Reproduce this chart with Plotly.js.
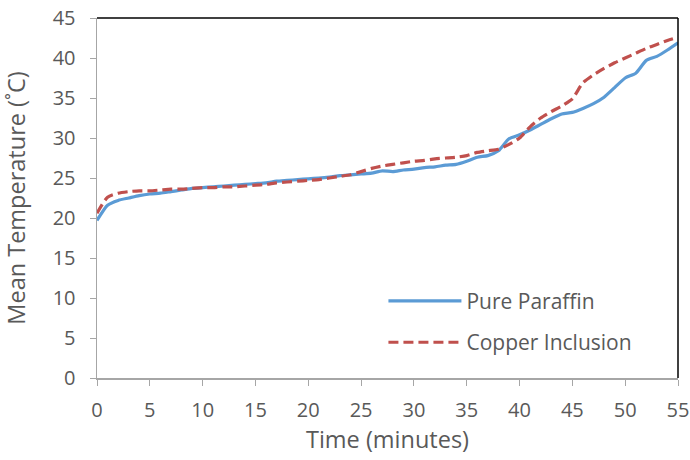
<!DOCTYPE html>
<html><head><meta charset="utf-8">
<script src="https://cdn.plot.ly/plotly-3.0.1.min.js"></script>
<style>html,body{margin:0;padding:0;background:#fff}#c{width:690px;height:460px}</style>
</head><body><div id="c"></div>
<script>
const timeMin = [0,1,2,3,4,5,6,7,8,9,10,11,12,13,14,15,16,17,18,19,20,21,22,23,24,25,26,27,28,29,30,31,32,33,34,35,36,37,38,39,40,41,42,43,44,45,46,47,48,49,50,51,52,53,54,55];
const pureParaffin = [19.7,21.6,22.2,22.5,22.8,23.0,23.1,23.3,23.5,23.7,23.8,23.9,24.0,24.1,24.2,24.3,24.4,24.6,24.7,24.8,24.9,25.0,25.1,25.3,25.4,25.5,25.6,25.9,25.8,26.0,26.1,26.3,26.4,26.6,26.7,27.1,27.6,27.8,28.4,29.9,30.4,31.0,31.7,32.4,33.0,33.2,33.7,34.3,35.1,36.3,37.5,38.1,39.7,40.2,41.0,41.9];
const copperInclusion = [20.6,22.6,23.1,23.3,23.4,23.4,23.5,23.6,23.6,23.7,23.8,23.8,23.9,23.9,24.0,24.1,24.2,24.4,24.5,24.6,24.7,24.8,25.0,25.2,25.4,25.8,26.2,26.5,26.7,26.9,27.1,27.2,27.4,27.5,27.6,27.8,28.2,28.4,28.6,29.2,30.0,31.4,32.5,33.3,34.0,34.9,36.9,37.9,38.7,39.4,40.0,40.6,41.2,41.7,42.2,42.6];
const xTicks = [0,5,10,15,20,25,30,35,40,45,50,55];
const yTicks = [0,5,10,15,20,25,30,35,40,45];

const FONT = 'Open Sans, Liberation Sans, sans-serif';
const traces = [
  {x: timeMin, y: pureParaffin, name: 'Pure Paraffin', mode: 'lines', legendgroup: 'a',
   line: {color: '#5B9BD5', width: 3.2, shape: 'spline', smoothing: 0.6}},
  {x: timeMin, y: copperInclusion, name: 'Copper Inclusion', mode: 'lines', legendgroup: 'b',
   line: {color: '#C0504D', width: 3.2, dash: '10px,5px', shape: 'spline', smoothing: 0.6}}
];
const layout = {
  width: 690, height: 460,
  margin: {l: 97, r: 12, t: 18, b: 82},
  paper_bgcolor: '#fff', plot_bgcolor: '#fff',
  font: {family: FONT, color: '#595959', size: 20},
  showlegend: true,
  legend: {x: 0.493, y: 0.27, xanchor: 'left', yanchor: 'top', bgcolor: 'rgba(0,0,0,0)',
           font: {size: 21, color: '#595959'}, tracegroupgap: 11, itemwidth: 73},
  xaxis: {range: [0, 55], tickvals: xTicks, ticks: 'outside', ticklen: 6, tickcolor: '#A6A6A6',
          showline: true, linecolor: '#A6A6A6', linewidth: 1.5, showgrid: false, zeroline: false,
          ticklabelstandoff: 7,
          tickfont: {size: 20}, title: {text: 'Time (minutes)', font: {size: 23.5}, standoff: 10}},
  yaxis: {range: [0, 45], tickvals: yTicks, ticks: 'outside', ticklen: 6, tickcolor: '#A6A6A6',
          showline: true, linecolor: '#A6A6A6', linewidth: 1.5, showgrid: false, zeroline: false,
          ticklabelstandoff: 10,
          tickfont: {size: 20}, title: {text: 'Mean Temperature (˚C)', font: {size: 23.5}, standoff: 20}},
  shapes: [
    {type: 'line', xref: 'paper', yref: 'paper', x0: 0, x1: 1, y0: 1, y1: 1, line: {color: '#000', width: 1.5}},
    {type: 'line', xref: 'paper', yref: 'paper', x0: 1, x1: 1, y0: 0, y1: 1, line: {color: '#000', width: 1.5}}
  ]
};
Plotly.newPlot('c', traces, layout, {displayModeBar: false, staticPlot: true});
</script></body></html>
